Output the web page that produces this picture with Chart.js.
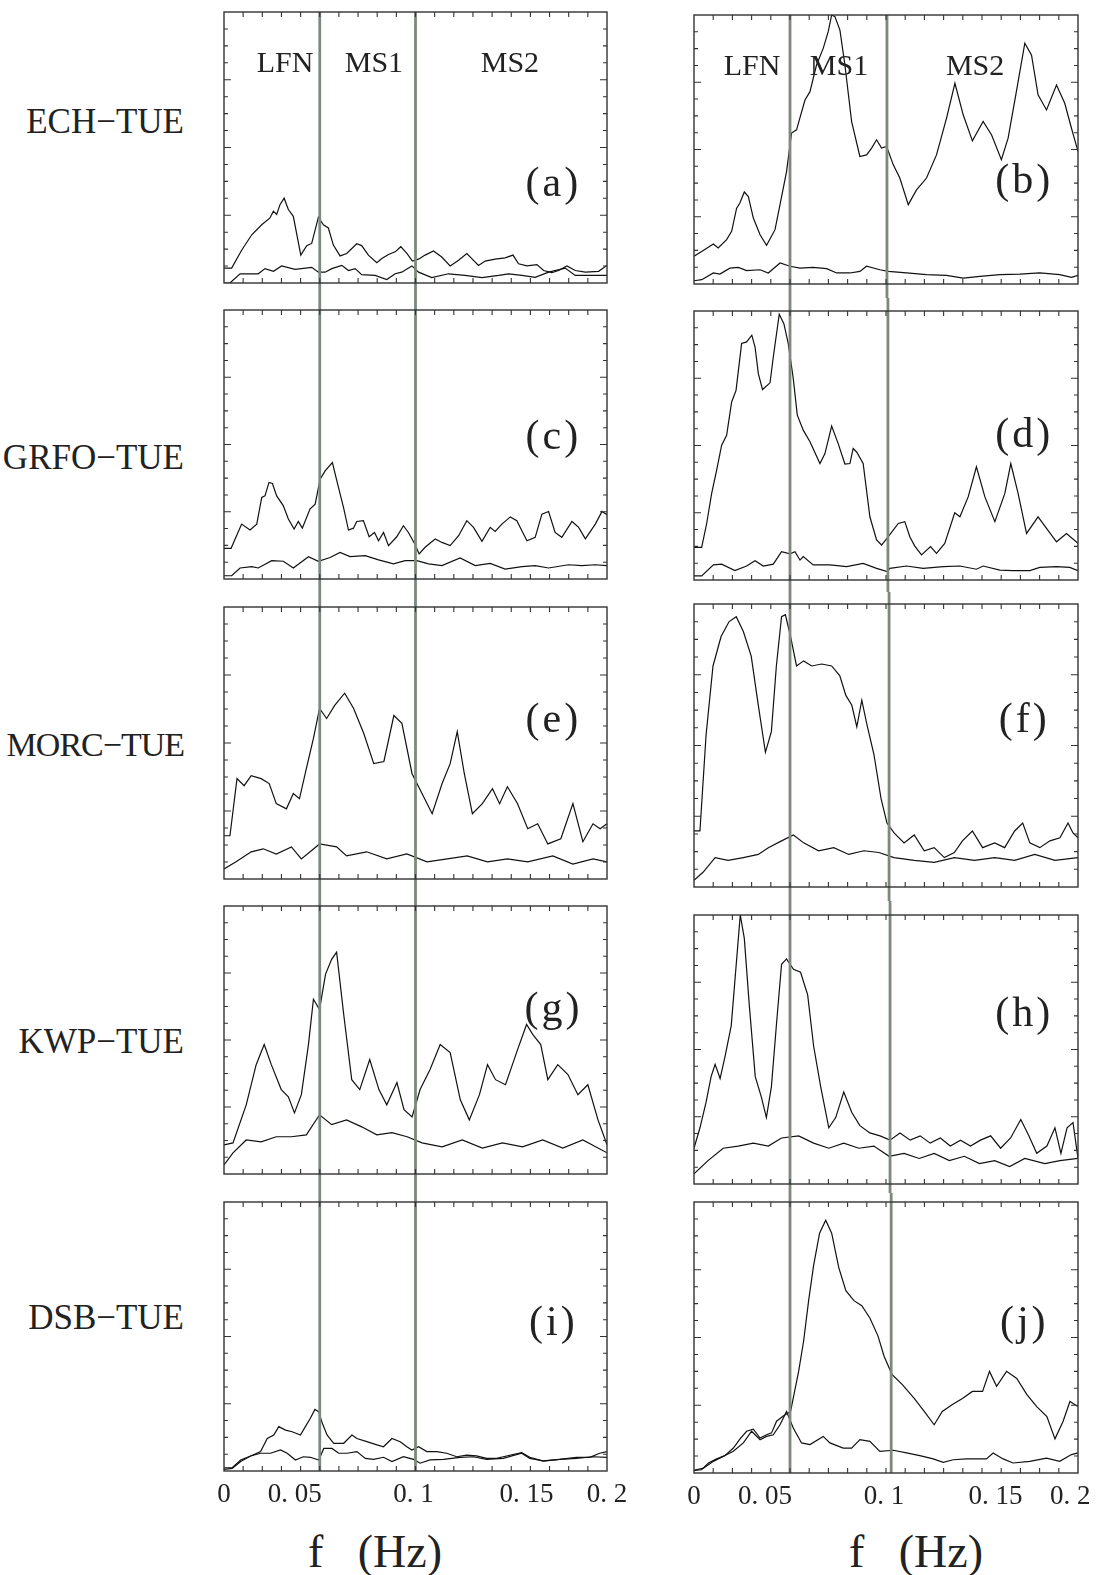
<!DOCTYPE html>
<html>
<head>
<meta charset="utf-8">
<script src="https://cdn.jsdelivr.net/npm/chart.js@4.4.0/dist/chart.umd.min.js"></script>
<style>
  body { margin: 0; background: #fff; width: 1099px; height: 1575px; position: relative; overflow: hidden; font-family: "Liberation Serif", serif; color: #222; }
  canvas { position: absolute; }
  .row { position: absolute; right: 915px; font-size: 35px; line-height: 1; transform: translateY(-50%); white-space: nowrap; }
  .xt { position: absolute; font-size: 46px; line-height: 1; transform: translate(-50%, -50%); white-space: pre; }
</style>
</head>
<body>
<div class="row" style="top:121px">ECH−TUE</div>
<div class="row" style="top:457px">GRFO−TUE</div>
<div class="row" style="top:745px; font-size:34px; letter-spacing:-1px">MORC−TUE</div>
<div class="row" style="top:1041px">KWP−TUE</div>
<div class="row" style="top:1317px">DSB−TUE</div>
<div class="xt" style="left:375px; top:1552px">f   (Hz)</div>
<div class="xt" style="left:916px; top:1552px">f   (Hz)</div>

<script>
// frequency in mHz (0..200 = 0..0.2 Hz), power in % of the panel height
// upper curve (hi) and lower curve (lo) of every panel

var a_hi = [[0,5.5],[4,5.5],[9.2,12.1],[14.5,17.8],[19.7,21.5],[24,24],[25.8,26.5],[27.5,25.3],[29.3,29],[31.4,31.3],[33.6,27.1],[36.2,24.6],[40.1,10.3],[43.2,13.8],[45.8,14.6],[49.3,24.3],[51.9,21.5],[54.5,20.3],[57.1,14],[60.6,10],[64.1,10.9],[69.3,14.5],[71.9,13.8],[75.4,10.3],[79.8,7.5],[82.4,9],[85.9,10.5],[89.4,11.5],[92.3,13.4],[95.5,10.9],[98.4,8.1],[101.6,8.8],[105,10.3],[109.4,11.8],[113.7,9.6],[118.1,6.3],[122.5,8.4],[126.8,10.9],[129.4,9],[132.9,6.5],[136.4,8.1],[141.6,8.8],[146.8,9.3],[150.9,10.3],[153.8,7.1],[158.2,6.3],[163.4,6.8],[166.9,4.6],[171.2,3.8],[174.7,4.6],[179.1,6.3],[183.4,4.6],[188.7,4],[195.6,4.3],[200,6.5]];
var a_lo = [[0,0],[3.1,0],[8.4,3.4],[17.9,3.4],[21.4,5.3],[25.8,4.3],[30.1,6.3],[37.1,5],[45.8,5.8],[49.3,4],[52.8,4],[56.3,5.3],[61.5,6.5],[65,4.6],[68.5,5.3],[71.9,3.1],[78.9,2.8],[85,1.3],[89.4,3.4],[92.8,4],[98.1,6.3],[101.6,4],[108.5,2],[117.2,3.4],[125.9,2.8],[134.7,2],[143.4,2.8],[148.6,3.4],[155.6,2.8],[162.5,2.1],[169.5,4],[178.2,5.5],[183.4,2.8],[190.4,2.8],[200,2.8]];

var b_hi = [[0,10.3],[4,12.1],[10.1,14.9],[12.6,13.4],[17,16.5],[19.6,19.6],[22.2,28.2],[23.9,30.1],[26.2,34.2],[28.3,32.5],[30.9,24.5],[34.4,18.3],[37.8,14.4],[42.2,20.2],[44.8,29.5],[48.2,41.8],[50.8,56.1],[53.4,57.3],[57.8,68.4],[60.4,71.5],[63.8,81.4],[67.3,87.6],[69.9,93.8],[71.7,100],[73.4,99.4],[76,94.4],[78.6,81.4],[82.1,60.4],[86.4,47.4],[89.9,48],[92.5,50.5],[95.1,53.6],[97.7,50.5],[100.3,51.1],[103.8,44.3],[107.2,39.4],[111.6,29.5],[115.9,35],[121.1,39.4],[126.3,48],[131.5,61.6],[135.9,74.6],[140.2,62.9],[145,53.2],[150.6,60.4],[155,55.4],[160.1,46.2],[163.6,54.2],[167.9,71.5],[172.3,89.5],[175.8,85.1],[179.2,70.3],[183.6,64.7],[188.8,74],[193.1,67.2],[196.6,57.9],[200,49.3]];
var b_lo = [[0,1.2],[4,1.6],[10.1,4.1],[13.5,3.7],[18.7,5.9],[23.1,6.2],[27.4,5],[34.4,5.3],[38.7,4.1],[44.8,7.8],[50,6.6],[55.2,5.9],[62.1,6.2],[69.1,5.7],[74.3,4.1],[81.2,4.1],[86.4,4.7],[89.9,6.6],[96.8,5.3],[101.2,4.7],[110.7,4.1],[121.1,3.5],[131.5,3.2],[140.2,2.2],[148.9,2.8],[159.3,3.5],[169.7,3.7],[180.1,4.1],[190.5,3.5],[196.6,2.5],[200,3.2]];

var c_hi = [[0,11.4],[3.7,11.4],[9.2,20.4],[13.6,18.2],[17.1,20.4],[19.7,30.3],[21.4,30.9],[23.5,35.9],[25.3,35.5],[27.5,30.9],[31,27.2],[33.6,22.3],[36.6,18.6],[38.8,21.4],[40.9,18.9],[44.9,26],[47.6,27.8],[50.2,37.1],[52.8,40.2],[56.6,43.3],[59.8,34],[62.4,26.6],[65,18.2],[67.6,18.9],[69.3,21.4],[72.8,21.7],[75.8,15.7],[78.6,17.3],[80.7,14.2],[83.3,17.3],[85.9,12.4],[90.2,15.7],[93.7,19.8],[96.3,17.3],[99.5,13.2],[101.9,9.3],[105,11.8],[110.3,14.9],[113.8,13.6],[118.1,12.4],[122.5,16.1],[126.8,21.7],[130.3,19.2],[134.7,14],[139,19.2],[141.6,17.7],[145.1,20.4],[149.5,23.1],[152.9,21.7],[158.2,14.2],[162.5,15.5],[166,24.1],[169.5,25.1],[172.9,17.3],[176.4,15.5],[181.7,21.4],[185.2,19.2],[188.7,14.9],[193.9,20.4],[197.4,25.1],[200,23.9]];
var c_lo = [[0,1.2],[4,1.2],[8.4,4.1],[14.5,4.6],[17.9,4.1],[24.9,6.8],[31,6.6],[36.2,4.1],[44.1,8.3],[49.3,6.6],[55.4,8],[60.6,9.9],[65.8,8.3],[73.7,8.7],[80.7,7.1],[88.5,5.6],[94.6,6.8],[100.7,6.8],[106.8,5.6],[113.8,5],[123.3,7.8],[131.2,5],[139,5.8],[146.8,3.7],[155.6,4.6],[162.5,5],[169.5,4.1],[179.9,5.3],[186.9,5],[193.9,5.3],[200,5]];

var d_hi = [[0,12.1],[4,12.1],[6.6,21],[9.2,32.2],[11.8,40.8],[14.4,50.1],[17,53.8],[19.6,66.2],[21.9,70.5],[24.8,87.9],[27.4,88.5],[30.1,91],[31.8,86.6],[33.5,76.7],[35.7,70.8],[39.6,73.3],[41.3,82.9],[44.4,98.8],[46.8,95.3],[49.1,87.9],[51.7,74.9],[53.8,61.3],[56.9,55.7],[60.4,51.4],[65.6,43.3],[68.2,47],[71.7,57.2],[75.1,50.7],[78.6,43.1],[81.2,43.3],[82.9,48.9],[84.7,47.6],[88.1,43.3],[91.6,23.5],[95.1,14.9],[97.7,13],[101.2,16.1],[106.4,21],[109.8,21.7],[112.4,16.1],[115,12.6],[118.5,9.3],[123.2,12.4],[126.3,9.9],[130.6,13.6],[135.8,25],[138.5,23.5],[142.8,30.9],[147.1,42.1],[151.5,30.9],[156.7,21.7],[161.9,32.2],[165,43.3],[168.8,32.2],[173.2,17.3],[179.2,23.5],[183.6,19.2],[188.8,14.2],[194,17.3],[200,13.6]];
var d_lo = [[0,1.5],[4,1.5],[10.1,5.6],[14.4,5.9],[21.3,3.5],[27.4,5.2],[31.8,7.2],[36.1,5.2],[41.3,5.9],[45.6,10.5],[50,9.7],[52.6,10.5],[55.2,7.4],[56.9,8.7],[62.1,5.6],[70.8,5.6],[79.5,5],[88.1,6.2],[95.1,4.3],[100.6,3.1],[102,4.3],[110.7,5.2],[119.4,4.3],[129.8,5],[138.5,5.2],[147.1,4],[150.6,5.2],[159.3,3.7],[166.2,3.5],[174.9,3.5],[180.1,4.7],[188.8,5],[195.7,4.7],[200,3.5]];

var e_hi = [[0,15.9],[3.1,15.9],[6.8,36.9],[10.5,34.3],[14.2,38],[19.4,36.9],[23.6,35.1],[27.3,27.7],[32.6,25.8],[36.2,31.4],[39.4,29.5],[43,40.6],[46.7,51.7],[49.9,62.7],[53.6,59],[57.8,63.8],[63,68.3],[67.7,62.7],[73,53.5],[78.2,42.4],[83.5,43.2],[88.7,60.1],[92.9,57.2],[98.2,38.7],[103.4,31.4],[108.7,24],[113.9,35.1],[118.1,42.4],[121.8,54.2],[125.5,38.7],[129.7,24],[134.9,27.7],[140.2,33.2],[143.9,27.7],[148,33.9],[153.3,27.7],[158.6,18.5],[163.8,20.3],[169.1,12.9],[175.9,14.8],[182.2,27.7],[187.4,13.7],[192.7,20.3],[196.4,18.5],[200,20.3]];
var e_lo = [[0,3.7],[6.3,6.3],[14.2,10],[20.5,11.1],[27.3,9.2],[35.2,11.8],[40.4,7.4],[49.9,12.9],[58.8,11.8],[64,8.5],[74.5,10],[85,7.4],[95.5,9.2],[106,6.3],[116.6,7.4],[127,8.5],[137.6,6.3],[148,7.4],[158.6,6.3],[171.7,8.5],[182.2,5.5],[192.7,7.4],[200,6.3]];

var f_hi = [[0,19.8],[3.1,19.8],[6.3,53.8],[9.9,78.1],[14.1,88.5],[18.3,93.8],[22,95.5],[25.7,90.3],[29.8,81.6],[33.5,64.2],[37.2,47.6],[40.3,54.9],[42.9,78.1],[45.6,95.5],[47.6,96.2],[50.3,88.5],[53.4,78.1],[57.1,79.9],[61.3,78.1],[66.5,78.8],[71.7,78.1],[75.9,74.7],[79.1,67.7],[82.2,64.2],[84.8,56.6],[87.4,66],[90.1,57.3],[93.7,46.9],[97.4,31.3],[100.5,22.6],[104.2,19.1],[109.4,15.6],[114.7,18.4],[119.9,12.8],[125.1,13.9],[130.4,10.4],[135.6,12.2],[139.8,16.3],[145,19.8],[150.3,13.9],[156.6,15.6],[161.8,13.9],[167,19.8],[171.2,22.6],[174.9,15.6],[180.1,13.9],[185.4,16.3],[190.6,17.4],[194.8,22.6],[197.4,19.1],[200,17.4]];
var f_lo = [[0,2.4],[4.7,5.2],[11,10.4],[17.8,9.4],[25.7,10.4],[33.5,11.5],[38.7,13.9],[45.6,16.3],[51.8,18.4],[57.1,15.6],[64.9,12.8],[72.8,13.9],[80.6,11.5],[88.5,12.8],[96.3,12.2],[104.2,10.4],[114.7,9.4],[125.1,8.7],[135.6,10.4],[146.1,9.4],[156.6,10.4],[167,9.4],[177.5,11.5],[188,9.4],[200,10.4]];

var g_hi = [[0,10.9],[4.7,11.6],[11.6,25.8],[16.8,40.8],[21,48.3],[24.7,40.8],[29.9,31.5],[33.6,28.8],[36.8,22.8],[40.4,29.6],[44.1,48.3],[46.7,65.2],[49.9,61.4],[53,74.5],[56.2,80.1],[58.8,82.8],[62.5,59.6],[66.7,35.2],[70.9,31.5],[76.1,42.7],[80.9,31.5],[85,25.8],[90.3,34.1],[94,24],[98.2,21.3],[102.4,31.5],[107.6,39],[112.9,48.3],[118.1,45.3],[123.4,27.7],[128.1,20.2],[133.4,29.6],[137.6,40.8],[141.8,35.2],[147,33.3],[153.3,46.4],[158,55.8],[161.2,52.1],[165.4,48.3],[169.1,35.2],[174.3,40.8],[179.6,37.1],[184.8,29.6],[190,33.3],[195.3,20.2],[200,10.9]];
var g_lo = [[0,3.4],[4.7,7.9],[11.6,12.7],[19.4,12],[27.3,13.9],[35.2,13.9],[43,14.6],[49.9,22.1],[56.2,18.4],[64,20.2],[71.9,17.6],[79.8,14.6],[87.7,15.4],[95.6,13.9],[103.4,11.6],[113.9,10.1],[124.4,12.7],[134.9,9.7],[145.4,11.6],[155.9,10.1],[166.4,12.7],[176.9,9.7],[187.4,12.7],[200,7.9]];

var h_hi = [[0,13.3],[3.1,20.9],[6.3,30.4],[8.9,39.9],[11,44.5],[13.6,39.2],[16.2,47.5],[19.4,58.9],[22,81.7],[24.1,100],[26.2,91.3],[28.8,66.5],[31.9,39.9],[35.1,32.3],[37.7,24.7],[40.3,36.1],[42.9,58.9],[45.6,81.7],[48.2,83.7],[51.8,79.8],[55.5,78.7],[59.2,70.3],[62.3,51.3],[66,36.1],[70.2,20.9],[73.8,24.7],[78,34.2],[82.2,26.6],[86.4,21.7],[91.6,19],[96.9,17.9],[102.1,16.3],[107.3,19],[112.6,16.3],[117.8,17.9],[123,15.2],[128.3,17.1],[133.5,14.1],[138.8,16.3],[144,14.1],[149.2,16.3],[154.5,17.9],[159.7,13.3],[164.9,17.1],[170.2,24],[174.4,17.9],[178.5,11.4],[183.8,14.1],[188,20.9],[191.1,11.4],[194.3,20.9],[197.4,22.8],[200,9.5]];
var h_lo = [[0,3.8],[7.3,8.7],[15.2,13.3],[23,14.1],[30.9,15.2],[38.7,14.1],[45.6,17.1],[54.5,17.9],[62.3,15.2],[70.2,13.3],[78,15.2],[85.9,13.3],[93.7,14.1],[101.6,10.3],[109.4,11.4],[117.3,9.5],[125.1,11.4],[133,8.7],[140.8,10.3],[148.7,7.6],[156.6,8.7],[164.4,6.5],[172.3,9.5],[182.7,7.6],[190.6,8.7],[200,9.5]];

var i_hi = [[0,1.2],[4.3,1.2],[8.7,4.1],[13.9,5.6],[19.1,7.2],[22.6,12.1],[26,13.4],[28.6,16.5],[32.1,15.2],[35.6,14.6],[39.9,13.4],[42.5,16.5],[45,19.5],[47.5,22.9],[49.5,22],[51.2,18],[53.8,13.4],[57.3,10.3],[62.5,10.3],[66.8,13.4],[69.4,12.1],[74.6,10.9],[79.9,9.7],[83.3,9],[87.7,12.1],[92,10.9],[95.5,9],[98.1,7.8],[101.6,9],[105.9,7.2],[111.1,7.2],[116.3,6.6],[121.5,5.3],[126.7,5.9],[131.9,5.6],[137.1,4.7],[142.4,4.7],[145.8,5.3],[155.4,6.8],[159.7,5.1],[166.7,3.7],[175.3,4.3],[184,5.1],[191,5.1],[196.2,6.6],[200,7.2]];
var i_lo = [[0,0.6],[4.3,1],[8.7,3.5],[13.9,5.6],[19.1,6.6],[24.3,6.6],[29.5,7.8],[33,6.6],[37.3,4.1],[41.4,5.3],[45.1,5.1],[49.5,4.1],[52.1,8.4],[56.4,8.4],[59.9,6.6],[64.2,6.6],[69.4,7.2],[73.8,4.7],[78.1,4.3],[83.3,5.1],[87.7,3.5],[93.7,5.3],[99,4.3],[102.4,2.9],[107.6,4.1],[114.6,4.3],[123.3,5.1],[130.2,5.3],[137.1,4.3],[145.8,4.7],[155.4,6.6],[159.7,4.7],[166.7,3.8],[175.3,4.3],[184,4.7],[192.7,5.3],[200,5.1]];

var j_hi = [[0,1],[4,1.2],[7.5,3.7],[11.8,5.2],[16.1,6.4],[20.5,9.2],[23.9,12.5],[27.4,15.4],[30.9,16.2],[34.4,12.9],[37.8,14.1],[40.4,14.8],[43,19.1],[46.5,21],[50.3,22.7],[54.5,37.5],[57.1,48.7],[59.7,63.6],[62.3,76.6],[65.4,88.5],[68.6,93.3],[71.7,88.5],[75.4,75.8],[79.1,67.3],[83.3,63.6],[87.4,61.7],[91.6,57.2],[95.8,50.6],[99,43.1],[103.1,36.4],[108.4,32.7],[114.7,27.5],[119.9,22.7],[125.1,17.8],[129.3,22.7],[134.6,25.3],[139.8,27.5],[145,30.1],[150.3,30.1],[153.9,37.5],[157.6,32],[162.8,37.5],[168.1,34.9],[173.3,29],[178.5,24.5],[183.8,20.8],[188,12.6],[192.2,19],[195.8,26.4],[200,24.5]];
var j_lo = [[0,1],[4.9,1.8],[10.1,4.3],[15.3,6.2],[20.5,8],[25.7,11.1],[30,15.4],[34.4,12.3],[37.8,13.5],[41.3,14.1],[44.8,17.8],[48.2,22.7],[51.7,16.6],[56,11.1],[60.4,10.5],[67.3,13.5],[70.8,11.1],[77.7,9.2],[82.1,9.2],[86.4,12.3],[91.6,11.7],[96.8,8],[103.8,8.4],[110.7,7.4],[117.6,6.4],[124.6,5.2],[129.8,3.9],[135,4.9],[141.9,5.2],[152.3,5.2],[155.8,7.4],[161,5.2],[166.2,3.7],[174.9,4.3],[183.6,5.5],[190.5,4.3],[196.6,6.8],[200,7.4]];

// band boundaries (mHz) and band names
var leftEdges = [50, 100];
var rightEdges = [[50, 100.5], [50, 101], [50, 101.6], [50, 102.1], [50, 102.7]];
var bandNames = ["LFN", "MS1", "MS2"];
var leftBandAt = [31.9, 78.3, 149.3];
var rightBandAt = [30.2, 75.5, 146.4];

// tick labels of the frequency axis, where they are printed
var xLabels = ["0", "0. 05", "0. 1", "0. 15", "0. 2"];
var leftLabelAt = [0, 37, 99, 158, 200];
var rightLabelAt = [0, 37, 99, 157, 196];

// panel letters and their height (% of panel)
var leftLetters = ["a", "c", "e", "g", "i"];
var rightLetters = ["b", "d", "f", "h", "j"];
var leftLetterY = [36.2, 52.4, 58.1, 61.2, 54.6];
var rightLetterY = [37.9, 53.5, 58.7, 62.8, 55];

var leftSeries = [[a_hi, a_lo], [c_hi, c_lo], [e_hi, e_lo], [g_hi, g_lo], [i_hi, i_lo]];
var rightSeries = [[b_hi, b_lo], [d_hi, d_lo], [f_hi, f_lo], [h_hi, h_lo], [j_hi, j_lo]];

// page layout: frame top/bottom of each panel, frame left/right of each column
var leftFrames = [[12, 283], [310, 579], [607, 879], [906, 1174], [1202, 1471]];
var rightFrames = [[15, 284], [311, 580], [604, 887], [915, 1184], [1202, 1473]];
var leftX = [224, 607];
var rightX = [694, 1078];

// frame, ticks, band lines and letters
var panelDeco = {
  id: "panelDeco",
  afterDatasetsDraw: function(chart, args, o) {
    var ctx = chart.ctx, ca = chart.chartArea;
    var xs = chart.scales.x, ys = chart.scales.y;
    ctx.save();

    // grey band boundaries, running on through the gaps
    ctx.strokeStyle = "#7e887e";
    ctx.lineWidth = 2.8;
    o.edges.forEach(function(v) {
      var px = xs.getPixelForValue(v);
      ctx.beginPath();
      ctx.moveTo(px, o.first ? ca.top : 0);
      ctx.lineTo(px, o.last ? ca.bottom : chart.height);
      ctx.stroke();
    });

    // box
    ctx.strokeStyle = "#333";
    ctx.lineWidth = 1.4;
    ctx.strokeRect(ca.left, ca.top, ca.right - ca.left, ca.bottom - ca.top);

    // inner ticks
    ctx.lineWidth = 1.1;
    ctx.beginPath();
    for (var v = 10; v < 200; v += 10) {
      var px = xs.getPixelForValue(v);
      ctx.moveTo(px, ca.bottom); ctx.lineTo(px, ca.bottom - 5);
      ctx.moveTo(px, ca.top); ctx.lineTo(px, ca.top + 5);
    }
    for (var k = 1; k < 16; k++) {
      var py = ys.getPixelForValue(k * 6.25);
      var len = (k % 4 === 0) ? 7 : 4;
      ctx.moveTo(ca.left, py); ctx.lineTo(ca.left + len, py);
      ctx.moveTo(ca.right, py); ctx.lineTo(ca.right - len, py);
    }
    ctx.stroke();

    ctx.fillStyle = "#222";
    ctx.textAlign = "center";
    ctx.textBaseline = "middle";
    ctx.font = '42px "Liberation Serif"';
    if ("letterSpacing" in ctx) ctx.letterSpacing = "3px";
    ctx.fillText("(" + o.letter + ")", xs.getPixelForValue(172), ys.getPixelForValue(o.letterY));
    if ("letterSpacing" in ctx) ctx.letterSpacing = "0px";

    if (o.first) {
      ctx.font = '30px "Liberation Serif"';
      bandNames.forEach(function(name, n) {
        ctx.fillText(name, xs.getPixelForValue(o.bandAt[n]), ys.getPixelForValue(80.6));
      });
    }
    ctx.restore();
  }
};

function toPoints(list) {
  return list.map(function(p) { return { x: p[0], y: p[1] }; });
}

function makeColumn(frames, colX, series, letters, letterY, edgesFor, bandAt, labelAt, padR) {
  var padL = 30;
  for (var r = 0; r < frames.length; r++) {
    var first = r === 0, last = r === frames.length - 1;
    var top = first ? 0 : Math.round((frames[r - 1][1] + frames[r][0]) / 2);
    var bottom = last ? frames[r][1] + 52 : Math.round((frames[r][1] + frames[r + 1][0]) / 2);
    var cv = document.createElement("canvas");
    cv.width = (colX[1] - colX[0]) + padL + padR;
    cv.height = bottom - top;
    cv.style.left = (colX[0] - padL) + "px";
    cv.style.top = top + "px";
    cv.style.width = cv.width + "px";
    cv.style.height = cv.height + "px";
    document.body.appendChild(cv);

    var xAxis = {
      type: "linear", min: 0, max: 200, display: last,
      grid: { display: false, drawTicks: false },
      border: { display: false },
      ticks: {
        autoSkip: false, maxRotation: 0, padding: 8, color: "#222",
        font: { family: "Liberation Serif", size: 27 },
        callback: function(val, idx) { return xLabels[idx]; }
      }
    };
    if (last) {
      xAxis.afterBuildTicks = function(s) { s.ticks = labelAt.map(function(v) { return { value: v }; }); };
      xAxis.afterFit = function(s) { s.height = 52; };
    }

    new Chart(cv, {
      type: "line",
      data: {
        datasets: [
          { data: toPoints(series[r][0]), borderColor: "#111", borderWidth: 1.2, pointRadius: 0, tension: 0 },
          { data: toPoints(series[r][1]), borderColor: "#111", borderWidth: 1.2, pointRadius: 0, tension: 0 }
        ]
      },
      options: {
        responsive: false,
        animation: false,
        events: [],
        layout: { padding: { left: padL, right: padR, top: frames[r][0] - top, bottom: last ? 0 : bottom - frames[r][1] } },
        plugins: {
          legend: { display: false },
          tooltip: { enabled: false },
          panelDeco: { first: first, last: last, letter: letters[r], letterY: letterY[r], edges: edgesFor(r), bandAt: bandAt }
        },
        scales: {
          x: xAxis,
          y: { type: "linear", min: 0, max: 100, display: false }
        }
      },
      plugins: [panelDeco]
    });
  }
}

makeColumn(leftFrames, leftX, leftSeries, leftLetters, leftLetterY,
  function() { return leftEdges; }, leftBandAt, leftLabelAt, 30);
makeColumn(rightFrames, rightX, rightSeries, rightLetters, rightLetterY,
  function(r) { return rightEdges[r]; }, rightBandAt, rightLabelAt, 21);
</script>
</body>
</html>
